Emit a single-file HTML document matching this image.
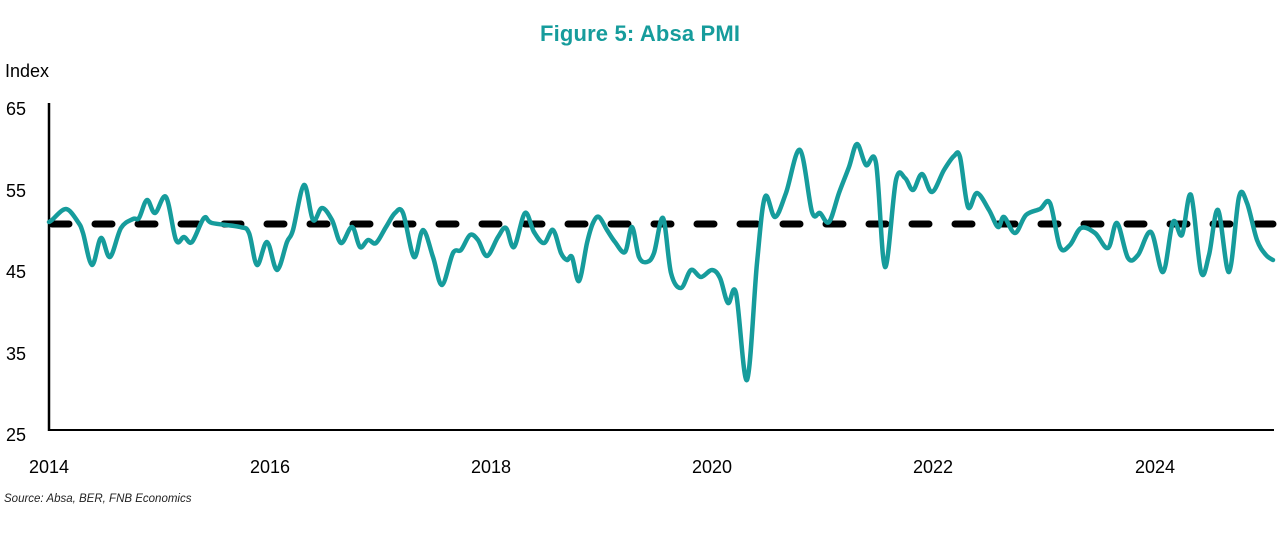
<!DOCTYPE html>
<html><head><meta charset="utf-8"><style>
body{margin:0;background:#fff;width:1280px;height:539px;overflow:hidden}
svg{display:block}
text{font-family:"Liberation Sans",sans-serif}
</style></head><body>
<svg width="1280" height="539" viewBox="0 0 1280 539">
<text x="640" y="41" text-anchor="middle" font-size="22" font-weight="bold" fill="#169c9c" textLength="200">Figure 5: Absa PMI</text>
<text x="5" y="77" font-size="18" fill="#000">Index</text>
<g font-size="18" fill="#000">
<text x="6" y="115">65</text>
<text x="6" y="197">55</text>
<text x="6" y="278">45</text>
<text x="6" y="360">35</text>
<text x="6" y="441">25</text>
</g>
<g font-size="18" fill="#000" text-anchor="middle">
<text x="49" y="473">2014</text>
<text x="270" y="473">2016</text>
<text x="491" y="473">2018</text>
<text x="712" y="473">2020</text>
<text x="933" y="473">2022</text>
<text x="1155" y="473">2024</text>
</g>
<text x="4" y="502" font-size="11.5" font-style="italic" fill="#222">Source: Absa, BER, FNB Economics</text>
<line x1="49" y1="103" x2="49" y2="431" stroke="#000" stroke-width="2.5"/>
<line x1="48" y1="430" x2="1274" y2="430" stroke="#000" stroke-width="2"/>
<line x1="52" y1="224" x2="1273" y2="224" stroke="#000" stroke-width="7" stroke-linecap="round" stroke-dasharray="17 26"/>
<path id="pmi" fill="none" stroke="#169c9c" stroke-width="4.5" stroke-linejoin="round" stroke-linecap="round" d=""/>
</svg>
<script>
var s="49,222 52,220 66,209 78,222 83,233 92,265 101,238 110,257 121,228 133,219 139,218 147,200 155,213 166,197 176,240 184,237 192,242 204,218 212,223 240,227 249,233 257,265 267,242 277,270 287,242 293,230 304,185 313,220 322,208 332,220 341,243 352,227 360,247 368,240 376,243 386,227 395,213 403,213 414,257 423,230 433,257 442,285 453,253 461,250 470,235 478,240 487,256 498,237 506,228 514,247 525,213 534,232 544,243 553,230 561,253 567,260 572,257 579,281 587,243 593,223 599,217 607,230 615,242 625,252 632,227 639,257 647,262 654,253 663,218 671,273 681,288 691,270 701,277 712,270 720,278 728,303 736,293 747,380 757,263 765,197 775,217 786,193 800,150 812,212 820,213 829,222 839,193 849,167 857,144 866,165 876,163 885,267 896,180 905,178 913,190 922,174 932,192 944,170 954,156 960,157 968,207 977,193 989,210 998,227 1004,217 1015,233 1026,215 1040,209 1050,203 1060,247 1070,245 1081,228 1095,233 1108,248 1117,223 1128,258 1138,255 1151,232 1163,272 1173,222 1182,235 1191,195 1201,272 1209,255 1218,210 1229,272 1239,197 1247,203 1257,240 1266,255 1273,260";
var p=s.trim().split(/\s+/).map(function(a){return a.split(",").map(Number)});
var d="M"+p[0][0]+","+p[0][1];
for(var i=0;i<p.length-1;i++){
var p0=p[i-1]||p[i],p1=p[i],p2=p[i+1],p3=p[i+2]||p2;
var c1x=p1[0]+(p2[0]-p0[0])/6,c1y=p1[1]+(p2[1]-p0[1])/6;
var c2x=p2[0]-(p3[0]-p1[0])/6,c2y=p2[1]-(p3[1]-p1[1])/6;
d+=" C"+c1x.toFixed(1)+","+c1y.toFixed(1)+" "+c2x.toFixed(1)+","+c2y.toFixed(1)+" "+p2[0]+","+p2[1];
}
document.getElementById("pmi").setAttribute("d",d);
</script>
</body></html>
